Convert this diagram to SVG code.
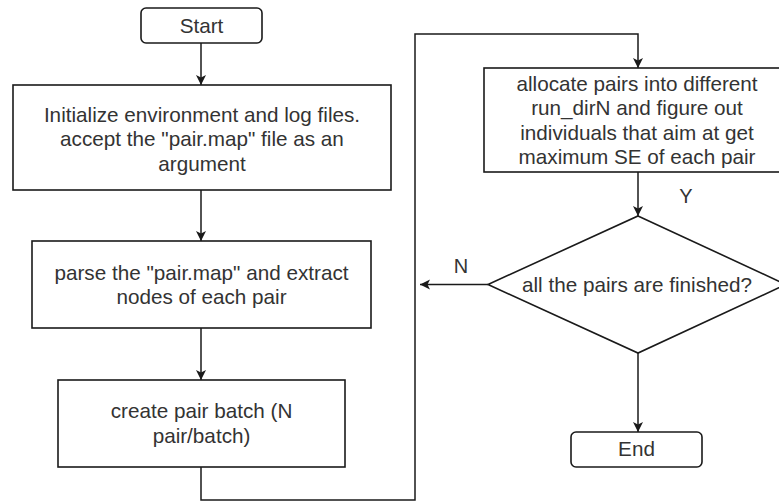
<svg xmlns="http://www.w3.org/2000/svg" width="779" height="502" viewBox="0 0 779 502">
  <defs>
    <marker id="arrow" markerUnits="userSpaceOnUse" markerWidth="12" markerHeight="12" viewBox="0 0 12 12" refX="11" refY="6" orient="auto">
      <path d="M1,1 L11,6 L1,11 L3.5,6 Z" fill="#1a1a1a"/>
    </marker>
    <style>
      .box { fill: #ffffff; stroke: #1a1a1a; stroke-width: 1.6; }
      .edge { fill: none; stroke: #1a1a1a; stroke-width: 1.5; }
      .txt { font-family: "Liberation Sans", Arial, sans-serif; font-size: 20.7px; fill: #333333; text-anchor: middle; }
      .lbl { font-family: "Liberation Sans", Arial, sans-serif; font-size: 20px; fill: #333333; text-anchor: middle; }
    </style>
  </defs>
  <rect width="779" height="502" fill="#ffffff"/>

  <!-- connectors -->
  <g id="connectors">
    <path class="edge" d="M201,43 L201,85" marker-end="url(#arrow)"/>
    <path class="edge" d="M201,190 L201,241" marker-end="url(#arrow)"/>
    <path class="edge" d="M201,328 L201,380" marker-end="url(#arrow)"/>
    <path class="edge" d="M201,467 L201,500 L415,500 L415,34 L638,34 L638,68" marker-end="url(#arrow)"/>
    <path class="edge" d="M638,172 L638,216" marker-end="url(#arrow)"/>
    <path class="edge" d="M488,284.5 L420,284.5" marker-end="url(#arrow)"/>
    <path class="edge" d="M638,353 L638,432" marker-end="url(#arrow)"/>
    <text class="lbl" x="686" y="203">Y</text>
    <text class="lbl" x="461" y="273">N</text>
  </g>

  <g id="start">
    <rect class="box" x="141" y="8" width="121" height="35" rx="5" ry="5"/>
    <text class="txt" x="201.5" y="33">Start</text>
  </g>

  <g id="init">
    <rect class="box" x="13" y="85" width="378" height="105"/>
    <text class="txt" x="202" y="121.5">Initialize environment and log files.</text>
    <text class="txt" x="202" y="146">accept the "pair.map" file as an</text>
    <text class="txt" x="202" y="170.5">argument</text>
  </g>

  <g id="parse">
    <rect class="box" x="32" y="241" width="339" height="87"/>
    <text class="txt" x="201.5" y="279.5">parse the "pair.map" and extract</text>
    <text class="txt" x="201.5" y="304">nodes of each pair</text>
  </g>

  <g id="batch">
    <rect class="box" x="58" y="380" width="287" height="87"/>
    <text class="txt" x="201.5" y="418">create pair batch (N</text>
    <text class="txt" x="201.5" y="442.5">pair/batch)</text>
  </g>

  <g id="allocate">
    <rect class="box" x="484" y="68" width="308" height="104"/>
    <text class="txt" x="637" y="90.5">allocate pairs into different</text>
    <text class="txt" x="637" y="115">run_dirN and figure out</text>
    <text class="txt" x="637" y="139.5">individuals that aim at get</text>
    <text class="txt" x="637" y="164">maximum SE of each pair</text>
  </g>

  <g id="decision">
    <polygon class="box" points="638,216 786,284.5 638,353 488,284.5"/>
    <text class="txt" x="637" y="292">all the pairs are finished?</text>
  </g>

  <g id="end">
    <rect class="box" x="571" y="432" width="131" height="35" rx="5" ry="5"/>
    <text class="txt" x="636.5" y="456">End</text>
  </g>
</svg>
